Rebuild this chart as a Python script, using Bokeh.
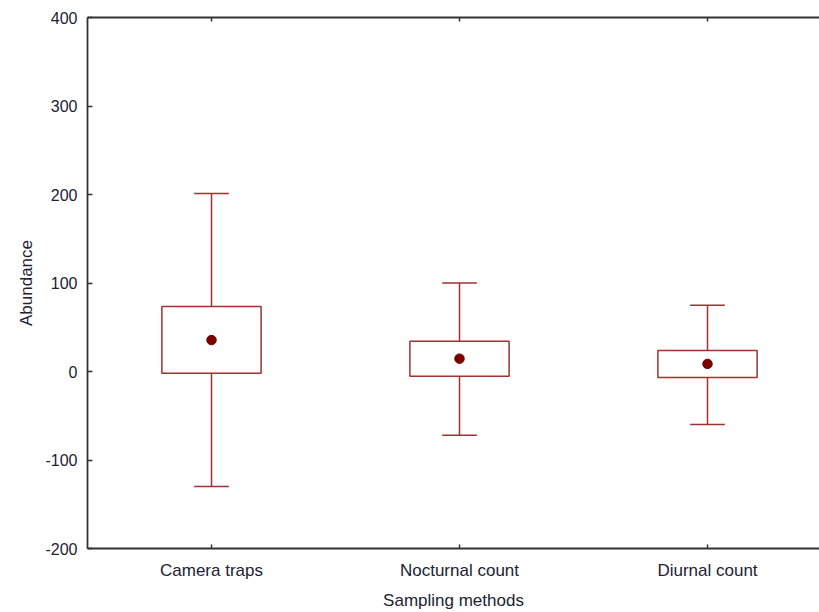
from bokeh.plotting import figure
from bokeh.models import FixedTicker, LinearAxis, Range1d, ColumnDataSource
from bokeh.embed import file_html
from bokeh.resources import INLINE

categories = ["Camera traps", "Nocturnal count", "Diurnal count"]
whisker_high = [201, 100, 75]
box_high = [73.5, 34.3, 23.7]
mean_vals = [35.5, 14.5, 8.6]
box_low = [-1.9, -5.3, -6.8]
whisker_low = [-130, -72, -60]
y_ticks = [-200, -100, 0, 100, 200, 300, 400]
y_tick_labels = ["-200", "-100", "0", "100", "200", "300", "400"]

pos = [1, 2, 3]
BOX_HALF = 0.2
CAP_HALF = 0.07
src = ColumnDataSource(dict(
    x=pos, wh=whisker_high, bh=box_high, m=mean_vals, bl=box_low, wl=whisker_low,
    cl=[x - CAP_HALF for x in pos], cr=[x + CAP_HALF for x in pos],
    bxl=[x - BOX_HALF for x in pos], bxr=[x + BOX_HALF for x in pos]))

FONT = "Liberation Sans"
TXT = "#222233"
RED = "#a03232"
AX = "#333333"

p = figure(frame_width=732, frame_height=531, output_backend="svg",
           toolbar_location=None, x_range=Range1d(0.5, 0.5 + 732 / 248),
           y_range=Range1d(-200, 400), min_border_left=87, min_border_right=0,
           min_border_top=17, min_border_bottom=10)
p.outline_line_color = None
p.grid.visible = False
p.background_fill_color = "white"

# whiskers
p.segment(x0="x", x1="x", y0="bh", y1="wh", source=src, line_color=RED, line_width=1.5)
p.segment(x0="x", x1="x", y0="wl", y1="bl", source=src, line_color=RED, line_width=1.5)
p.segment(x0="cl", x1="cr", y0="wh", y1="wh", source=src, line_color=RED, line_width=1.5)
p.segment(x0="cl", x1="cr", y0="wl", y1="wl", source=src, line_color=RED, line_width=1.5)
# boxes
p.quad(left="bxl", right="bxr", top="bh", bottom="bl", source=src,
       fill_color="white", line_color=RED, line_width=1.5)
# means
p.scatter(x="x", y="m", source=src, size=9.5, fill_color="#7a0000", line_color="#7a0000")

ax = p.xaxis[0]
ax.ticker = FixedTicker(ticks=pos)
ax.major_label_overrides = {i: c for i, c in zip(pos, categories)}
ax.axis_label = "Sampling methods"
ax.major_tick_in = 4
ax.major_tick_out = 0
ax.minor_tick_line_color = None
ax.major_label_standoff = 12
ax.axis_label_standoff = 8
ax.major_label_text_font_size = "17px"

ay = p.yaxis[0]
ay.ticker = FixedTicker(ticks=y_ticks)
ay.major_label_overrides = {t: s for t, s in zip(y_ticks, y_tick_labels)}
ay.axis_label = "Abundance"
ay.major_tick_in = 5
ay.major_tick_out = 0
ay.minor_tick_line_color = None
ay.major_label_standoff = 10
ay.axis_label_standoff = 6
ay.major_label_text_font_size = "16px"

for a in (ax, ay):
    a.axis_line_color = AX
    a.axis_line_width = 1.8
    a.major_tick_line_color = AX
    a.major_tick_line_width = 1.5
    a.major_label_text_font = FONT
    a.major_label_text_color = TXT
    a.axis_label_text_font = FONT
    a.axis_label_text_font_size = "17px"
    a.axis_label_text_font_style = "normal"
    a.axis_label_text_color = TXT

top = LinearAxis(ticker=FixedTicker(ticks=pos), major_label_text_color=None,
                 major_tick_in=4, major_tick_out=0, minor_tick_line_color=None,
                 axis_line_color=AX, axis_line_width=1.8,
                 major_tick_line_color=AX, major_tick_line_width=1.5,
                 major_label_standoff=0, major_label_text_font_size="1px")
p.add_layout(top, "above")

open("out.html", "w").write(file_html(p, INLINE))
